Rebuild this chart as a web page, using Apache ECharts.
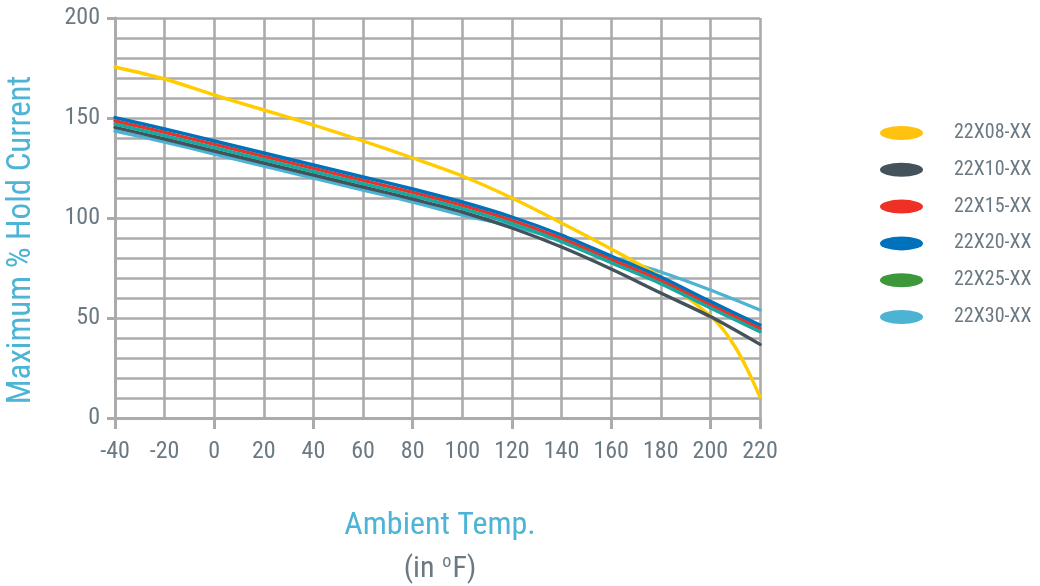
<!DOCTYPE html>
<html>
<head>
<meta charset="utf-8">
<title>Maximum % Hold Current vs Ambient Temperature</title>
<script src="https://cdn.jsdelivr.net/npm/echarts@6/dist/echarts.min.js"></script>
<style>
  html, body { margin: 0; padding: 0; background: #ffffff; }
  #chart { width: 1040px; height: 586px; }
</style>
</head>
<body>
<div id="chart"></div>
<script>
// Ambient temperature (°F) sample points
const temps = [-40, -20, 0, 20, 40, 60, 80, 100, 120, 140, 160, 180, 200, 220];
const temps08 = [-40, -20, 0, 20, 40, 60, 80, 100, 120, 140, 160, 180, 190, 200, 205, 210, 215, 220];

// Maximum % hold current per part family
const hold08 = [175.5, 169.5, 161.5, 154, 146.5, 138.5, 130, 121, 110, 97.5, 84.5, 70.5, 61, 51, 44.5, 35.5, 24, 10.5];
const hold10 = [145.3, 139.5, 133.5, 127.5, 121.5, 115.5, 109.5, 103, 95, 85.5, 74.5, 62.5, 50.7, 36.8];
const hold15 = [148.5, 142.8, 136.8, 130.8, 124.8, 118.8, 112.8, 106.3, 98.8, 89.8, 79.3, 68.8, 56.6, 44.8];
const hold20 = [150.2, 144.5, 138.5, 132.5, 126.5, 120.5, 114.5, 108, 100.5, 91.5, 81, 70.5, 58.3, 46.5];
const hold25 = [146.9, 141.2, 135.2, 129.2, 123.2, 117.2, 111.2, 104.7, 97.2, 88.2, 77.7, 67.2, 55, 43.2];
const hold30 = [143.5, 138, 132, 126, 120, 114, 108, 101.5, 96, 89, 80.5, 73, 64, 54];

const partNames = ['22X08-XX', '22X10-XX', '22X15-XX', '22X20-XX', '22X25-XX', '22X30-XX'];

// Axis ticks
const xMin = -40, xMax = 220, xStep = 20;
const yMin = 0, yMax = 200, yStep = 50;

const FONT = '"Roboto Condensed", "Liberation Sans Narrow", "DejaVu Sans Condensed", Roboto, sans-serif';
const GRID_GREY = '#ababab';
const TEXT_GREY = '#6b7983';
const TITLE_BLUE = '#4cb4d4';

function pairs(xs, ys) { return xs.map((x, i) => [x, ys[i]]); }

// flat oval legend marker
const oval = 'path://M0 7A21.5 7 0 1 0 43 7A21.5 7 0 1 0 0 7Z';

function lineSeries(name, xs, ys, itemColor, lineColor, z) {
  return {
    name: name,
    type: 'line',
    data: pairs(xs, ys),
    smooth: 0.3,
    showSymbol: false,
    symbol: 'none',
    z: z,
    itemStyle: { color: itemColor },
    lineStyle: { color: lineColor, width: 3.4, cap: 'round' },
    emphasis: { disabled: true },
    animation: false
  };
}

const chart = echarts.init(document.getElementById('chart'), null, { renderer: 'canvas' });

chart.setOption({
  backgroundColor: '#ffffff',
  animation: false,
  grid: { left: 115, right: 280, top: 18, bottom: 168, containLabel: false },
  legend: {
    orient: 'vertical',
    left: 880,
    top: 123,
    padding: 0,
    itemWidth: 43,
    itemHeight: 14,
    itemGap: 16.8,
    icon: oval,
    data: partNames,
    selectedMode: false,
    textStyle: { color: TEXT_GREY, fontSize: 20, fontFamily: FONT, lineHeight: 20, padding: [0, 0, 0, 26] }
  },
  xAxis: [{
    type: 'value',
    min: xMin, max: xMax, interval: xStep,
    axisLine: { show: true, onZero: false, lineStyle: { color: GRID_GREY, width: 3 } },
    axisTick: { show: false },
    axisLabel: { color: TEXT_GREY, fontSize: 24, fontFamily: FONT, margin: 22 },
    splitLine: { show: true, lineStyle: { color: GRID_GREY, width: 2.6 } }
  }, {
    type: 'value',
    position: 'bottom',
    min: xMin, max: xMax, interval: 40,
    axisLine: { show: false },
    axisTick: { show: true, length: 11, lineStyle: { color: GRID_GREY, width: 3 } },
    axisLabel: { show: false },
    splitLine: { show: false }
  }],
  yAxis: {
    type: 'value',
    min: yMin, max: yMax, interval: yStep,
    axisLine: { show: true, onZero: false, lineStyle: { color: GRID_GREY, width: 3 } },
    axisTick: { show: true, length: 8, lineStyle: { color: GRID_GREY, width: 3 } },
    minorTick: { show: false, splitNumber: 5 },
    axisLabel: { color: TEXT_GREY, fontSize: 24, fontFamily: FONT, margin: 15 },
    splitLine: { show: true, lineStyle: { color: GRID_GREY, width: 2.6 } },
    minorSplitLine: { show: true, lineStyle: { color: GRID_GREY, width: 2.6 } }
  },
  graphic: [{
    type: 'text',
    x: 22, y: 240,
    rotation: Math.PI / 2,
    style: {
      text: 'Maximum % Hold Current',
      fill: TITLE_BLUE,
      font: '33px ' + FONT,
      align: 'center',
      verticalAlign: 'middle'
    }
  }, {
    type: 'text',
    x: 440, y: 526,
    style: {
      text: 'Ambient Temp.',
      fill: TITLE_BLUE,
      font: '32px ' + FONT,
      align: 'center',
      verticalAlign: 'middle'
    }
  }, {
    type: 'text',
    x: 440, y: 569,
    style: {
      text: '(in {sup|o}F)',
      fill: TEXT_GREY,
      font: '30px ' + FONT,
      align: 'center',
      verticalAlign: 'middle',
      rich: {
        sup: { fontSize: 18, fontFamily: FONT, fill: TEXT_GREY, padding: [0, 1, 13, 1] }
      }
    }
  }],
  series: [
    lineSeries(partNames[0], temps08, hold08, '#ffc20e', '#ffcc00', 2),
    lineSeries(partNames[1], temps, hold10, '#44525c', '#44525c', 2),
    lineSeries(partNames[2], temps, hold15, '#ee3124', '#ee3124', 2),
    lineSeries(partNames[3], temps, hold20, '#0072bc', '#0072bc', 2),
    lineSeries(partNames[4], temps, hold25, '#3d983c', '#17a9a0', 2),
    lineSeries(partNames[5], temps, hold30, '#4db3d3', '#4db3d3', 1)
  ]
});
</script>
</body>
</html>
